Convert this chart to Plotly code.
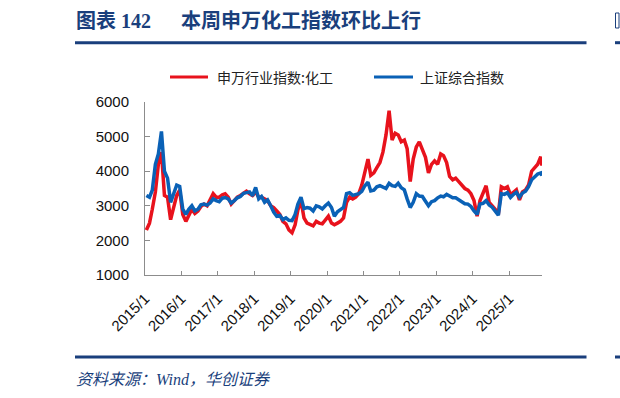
import pandas as pd
import plotly.graph_objects as go

# ---------------- data ----------------
months = pd.date_range("2015-01-01", periods=131, freq="MS") + pd.Timedelta(days=14)
dates = list(months) + [pd.Timestamp("2025-11-26")]

chem = [  # 申万行业指数:化工
    2300, 2500, 2900, 3400, 4200, 4550, 3300, 3250, 2600, 2950, 3300, 3450,
    2750, 2550, 2750, 2900, 2780, 2850, 2980, 3050, 3000, 3150, 3350, 3250,
    3250, 3320, 3350, 3250, 3050, 3150, 3250, 3300, 3350, 3420, 3350, 3300,
    3400, 3250, 3250, 3200, 3150, 3000, 2950, 2850, 2750, 2550, 2480, 2300,
    2220, 2450, 2880, 3150, 2650, 2500, 2450, 2420, 2550, 2500, 2480, 2600,
    2700, 2500, 2450, 2500, 2550, 2650, 3100, 3250, 3200, 3250, 3350, 3600,
    3950, 4350, 3880, 3950, 4100, 4250, 4550, 5050, 5750, 4900, 5100, 5050,
    4850, 4900, 4650, 3700, 4350, 4700, 4850, 4650, 4400, 3950, 4200, 4300,
    4200, 4500, 4450, 4250, 3850, 3750, 3800, 3700, 3600, 3500, 3450, 3350,
    3150, 2700, 3150, 3350, 3580, 3100, 3000, 2900, 2750, 3550, 3500, 3550,
    3320, 3400, 3460, 3170, 3400, 3460, 3600, 4000, 4100, 4200, 4420,
    4160,
]
shci = [  # 上证综合指数
    3300, 3250, 3450, 4200, 4500, 5150, 4000, 3800, 3100, 3350, 3600, 3560,
    2900, 2750, 2900, 3000, 2850, 2900, 3030, 3050, 3020, 3080, 3200, 3150,
    3120, 3220, 3240, 3200, 3080, 3150, 3230, 3270, 3360, 3380, 3400, 3290,
    3530, 3200, 3270, 3100, 3170, 3000, 2820, 2700, 2720, 2600, 2650, 2580,
    2570, 2750, 3050, 3250, 2920, 2950, 2930, 2850, 3000, 2970, 2910, 3000,
    3080, 2950, 2700, 2830, 2880, 2950, 3350, 3380, 3300, 3330, 3350, 3420,
    3580, 3680, 3430, 3450, 3550, 3580, 3550, 3500, 3650, 3580, 3560, 3650,
    3520, 3460, 3200, 2950, 3100, 3350, 3280, 3270, 3130, 3000, 3120, 3150,
    3230, 3280, 3260, 3330, 3280, 3230, 3230, 3180, 3120, 3060, 3050, 2980,
    2850, 2750, 3050, 3070, 3150, 3020, 2960, 2860, 2730, 3350, 3330, 3380,
    3240, 3330, 3390, 3250, 3370, 3420, 3550, 3750, 3850, 3920, 3950,
    3870,
]
tick_years = list(range(2015, 2026))
tick_dates = [f"{y}-01-01" for y in tick_years]
tick_labels = [f"{y}/1" for y in tick_years]
y_ticks = [1000, 2000, 3000, 4000, 5000, 6000]

series_names = ["申万行业指数:化工", "上证综合指数"]

# ---------------- style ----------------
RED = "#E8121C"
BLUE = "#0A61B6"
NAVY = "#1A3F7C"
AXIS = "#8C8C8C"
CJK = "Noto Sans CJK SC"

W_PX, H_PX = 620, 398
L, R, T, B = 145, 542, 102, 275
PW, PH = R - L, B - T


def fx(px):
    return (px - L) / PW


def fy(py):
    return (B - py) / PH


colors = [RED, BLUE]
fig = go.Figure()
for name, vals, col in zip(series_names, [chem, shci], colors):
    fig.add_trace(go.Scatter(x=dates, y=vals, name=name, mode="lines",
                             line=dict(color=col, width=3.5)))

fig.update_layout(
    width=W_PX, height=H_PX,
    margin=dict(l=L, r=W_PX - R, t=T, b=H_PX - B, pad=0, autoexpand=False),
    paper_bgcolor="white", plot_bgcolor="white",
    showlegend=False,
    font=dict(family="Liberation Sans, Arial", color="#111"),
)
fig.update_xaxes(
    type="date", range=["2015-01-01", "2025-11-27"],
    tickvals=tick_dates, ticktext=tick_labels, tickangle=-45,
    ticks="inside", ticklen=4, tickcolor=AXIS, tickwidth=1,
    showline=True, linecolor=AXIS, linewidth=1, showgrid=False, zeroline=False,
    tickfont=dict(family="Liberation Sans, Arial", size=15, color="#111"),
    ticklabelstandoff=8,
)
fig.update_yaxes(
    range=[1000, 6000], tickvals=y_ticks,
    ticks="inside", ticklen=5, tickcolor=AXIS, tickwidth=1,
    showline=True, linecolor=AXIS, linewidth=1, showgrid=False, zeroline=False,
    tickfont=dict(family="Liberation Sans, Arial", size=15, color="#111"),
    ticklabelstandoff=12,
)

shapes = [
    dict(type="line", xref="paper", yref="paper", x0=fx(75), x1=fx(586.5), y0=fy(42.7), y1=fy(42.7),
         line=dict(color=NAVY, width=3)),
    dict(type="line", xref="paper", yref="paper", x0=fx(75), x1=fx(586.5), y0=fy(357), y1=fy(357),
         line=dict(color=NAVY, width=3)),
    dict(type="line", xref="paper", yref="paper", x0=fx(615), x1=fx(621), y0=fy(42.7), y1=fy(42.7),
         line=dict(color=NAVY, width=3)),
    dict(type="line", xref="paper", yref="paper", x0=fx(615), x1=fx(621), y0=fy(357), y1=fy(357),
         line=dict(color=NAVY, width=3)),
    dict(type="rect", xref="paper", yref="paper", x0=fx(615.5), x1=fx(619), y0=fy(28), y1=fy(13),
         line=dict(color=NAVY, width=1), fillcolor="white"),
]
# legend keys (drawn by hand so that their placement matches the reference)
legend_pos = [(170, 208, 215), (374, 413, 418)]
for (lx0, lx1, tx), name, col in zip(legend_pos, series_names, colors):
    shapes.append(dict(type="line", xref="paper", yref="paper", x0=fx(lx0), x1=fx(lx1),
                       y0=fy(77), y1=fy(77), line=dict(color=col, width=3)))
    fig.add_annotation(text=name, xref="paper", yref="paper", x=fx(tx), y=fy(77),
                       xanchor="left", yanchor="middle", showarrow=False,
                       font=dict(family=CJK, size=14, color="#222"))
fig.update_layout(shapes=shapes)

fig.add_annotation(text="<b>图表 142</b>", xref="paper", yref="paper", x=fx(74), y=fy(21),
                   xanchor="left", yanchor="middle", showarrow=False,
                   font=dict(family="Liberation Serif, " + CJK, size=20, color=NAVY))
fig.add_annotation(text="<b>本周申万化工指数环比上行</b>", xref="paper", yref="paper", x=fx(179), y=fy(21),
                   xanchor="left", yanchor="middle", showarrow=False,
                   font=dict(family="Liberation Serif, " + CJK, size=20, color=NAVY))
fig.add_annotation(text="<i>资料来源：Wind，华创证券</i>", xref="paper", yref="paper", x=fx(74), y=fy(379),
                   xanchor="left", yanchor="middle", showarrow=False,
                   font=dict(family="Liberation Serif, " + CJK, size=16, color=NAVY))

fig.write_html("out.html")
